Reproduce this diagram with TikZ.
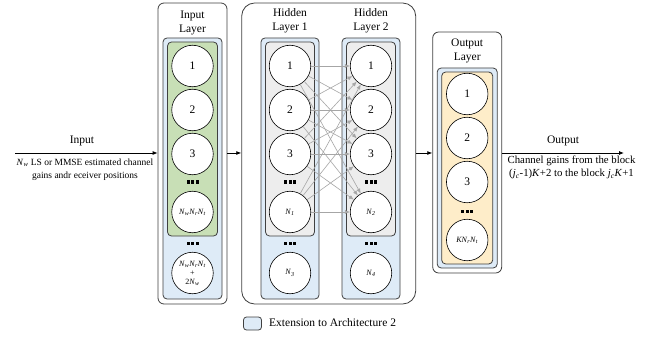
\documentclass[tikz,border=0pt]{standalone}
\usepackage{fontspec}
\setmainfont{Liberation Serif}
\usetikzlibrary{arrows.meta,calc}
\definecolor{extblue}{HTML}{DEEBF7}
\definecolor{ingreen}{HTML}{C8DFB6}
\definecolor{hidgray}{HTML}{EDEDED}
\definecolor{outorange}{HTML}{FEEDC9}
\definecolor{boxline}{HTML}{404040}
\definecolor{arrowgray}{HTML}{A6A6A6}
\newcommand{\Nsub}[1]{\textit{N}\textsubscript{\textit{#1}}}
\newcommand{\sqdots}{\rule{3pt}{3pt}\hspace{1.5pt}\rule{3pt}{3pt}\hspace{1.5pt}\rule{3pt}{3pt}}
\tikzset{
  outerbox/.style={draw=boxline, line width=0.8pt, rounded corners=6pt, fill=white, inner sep=0pt},
  bigouter/.style={outerbox, rounded corners=13pt},
  extbox/.style={draw=boxline, line width=0.8pt, rounded corners=4pt, fill=extblue, inner sep=0pt},
  innerbox/.style={draw=boxline, line width=0.8pt, rounded corners=4pt, inner sep=0pt},
  neuron/.style={circle, draw=black, line width=0.6pt, fill=white, minimum size=41.5pt, inner sep=0pt, font=\fontsize{11.5}{12}\selectfont},
  smallneuron/.style={neuron, font=\fontsize{8}{9}\selectfont, align=center},
  dotsnode/.style={inner sep=0pt},
  heading/.style={align=center, font=\fontsize{11.5}{14}\selectfont},
  conn/.style={draw=arrowgray, line width=0.6pt, -{Latex[length=5pt,width=4pt]}},
  mainarrow/.style={draw=black, line width=0.8pt, -{Latex[length=5pt,width=4pt]}},
  note/.style={align=center, font=\fontsize{9.5}{13.5}\selectfont},
  outnotestyle/.style={align=center, font=\fontsize{10.8}{13.5}\selectfont},
  label/.style={font=\fontsize{11.5}{14}\selectfont}
}
\begin{document}
\begin{tikzpicture}[x=1pt,y=-1pt]
\useasboundingbox (0,0) rectangle (650,339);

% ---------- Input layer ----------
\node[outerbox, minimum width=69pt, minimum height=301pt] (inouter) at (192.5,153.5) {};
\node[heading] (inhead) at (192.5,22.5) {Input\\Layer};
\node[extbox, minimum width=59pt, minimum height=261pt] (inext) at (192.5,168.5) {};
\node[innerbox, fill=ingreen, minimum width=50pt, minimum height=194pt] (ingreen) at (192.5,139) {};
\node[neuron] (in1) at (192.5,66) {1};
\node[neuron] (in2) at (192.5,110) {2};
\node[neuron] (in3) at (192.5,154) {3};
\node[dotsnode] (indots1) at (192.5,182) {\sqdots};
\node[smallneuron] (inN) at (192.5,212) {\Nsub{w}\Nsub{r}\Nsub{t}};
\node[dotsnode] (indots2) at (192.5,243) {\sqdots};
\node[smallneuron] (inX) at (192.5,273) {\Nsub{w}\Nsub{r}\Nsub{t}\\+\\2\Nsub{w}};

% ---------- Hidden layers ----------
\node[bigouter, minimum width=174pt, minimum height=301pt] (hidouter) at (328.7,153.5) {};
\node[heading] (h1head) at (290,21) {Hidden\\Layer 1};
\node[heading] (h2head) at (371,21) {Hidden\\Layer 2};
\node[extbox, minimum width=58pt, minimum height=261pt] (h1ext) at (290,168.5) {};
\node[extbox, minimum width=58pt, minimum height=261pt] (h2ext) at (371,168.5) {};
\node[innerbox, fill=hidgray, minimum width=49pt, minimum height=194pt] (h1gray) at (290,139) {};
\node[innerbox, fill=hidgray, minimum width=49pt, minimum height=194pt] (h2gray) at (371,139) {};

\node[neuron] (h1a) at (290,66) {1};
\node[neuron] (h1b) at (290,110) {2};
\node[neuron] (h1c) at (290,154) {3};
\node[dotsnode] (h1dots1) at (290,182) {\sqdots};
\node[smallneuron] (h1d) at (290,212) {\Nsub{1}};
\node[dotsnode] (h1dots2) at (290,243) {\sqdots};
\node[smallneuron] (h1e) at (290,273) {\Nsub{3}};

\node[neuron] (h2a) at (371,66) {1};
\node[neuron] (h2b) at (371,110) {2};
\node[neuron] (h2c) at (371,154) {3};
\node[dotsnode] (h2dots1) at (371,182) {\sqdots};
\node[smallneuron] (h2d) at (371,212) {\Nsub{2}};
\node[dotsnode] (h2dots2) at (371,243) {\sqdots};
\node[smallneuron] (h2e) at (371,273) {\Nsub{4}};

\foreach \s in {h1a,h1b,h1c,h1d}
  \foreach \t in {h2a,h2b,h2c,h2d}
    \draw[conn] (\s) -- (\t);

% ---------- Output layer ----------
\node[outerbox, minimum width=69pt, minimum height=241pt] (outouter) at (467.2,152.5) {};
\node[heading] (outhead) at (467.2,51) {Output\\Layer};
\node[extbox, minimum width=60pt, minimum height=200pt] (outext) at (467.2,168) {};
\node[innerbox, fill=outorange, minimum width=51pt, minimum height=192pt] (outorange) at (467.2,168) {};
\node[neuron] (o1) at (467.2,94) {1};
\node[neuron] (o2) at (467.2,138) {2};
\node[neuron] (o3) at (467.2,182) {3};
\node[dotsnode] (odots) at (467.2,211) {\sqdots};
\node[smallneuron] (oN) at (467.2,240) {\textit{KN}\textsubscript{\textit{r}}\Nsub{t}};

% ---------- Main arrows ----------
\coordinate (instart) at (15,153);
\coordinate (outend) at (624,153);
\draw[mainarrow] (instart) -- (inouter.west |- instart);
\draw[mainarrow] (inouter.east |- instart) -- (hidouter.west |- instart);
\draw[mainarrow] (hidouter.east |- instart) -- (outouter.west |- instart);
\draw[mainarrow] (outouter.east |- outend) -- (outend);

\node[label] (inlabel) at (82,141) {Input};
\node[note] (innote) at (85,169.5) {\Nsub{w} LS or MMSE estimated channel\\gains andr eceiver positions};
\node[label] (outlabel) at (563,141) {Output};
\node[outnotestyle] (outnote) at (571.5,167.5) {Channel gains from the block\\(\textit{j}\textsubscript{\textit{c}}-1)\textit{K}+2 to the block \textit{j}\textsubscript{\textit{c}}\textit{K}+1};

% ---------- Legend ----------
\node[extbox, rounded corners=3pt, minimum width=18pt, minimum height=13pt] (legbox) at (252.5,323.5) {};
\node[label, anchor=west, inner sep=0pt] (legtext) at (269,323) {Extension to Architecture 2};
\end{tikzpicture}
\end{document}
